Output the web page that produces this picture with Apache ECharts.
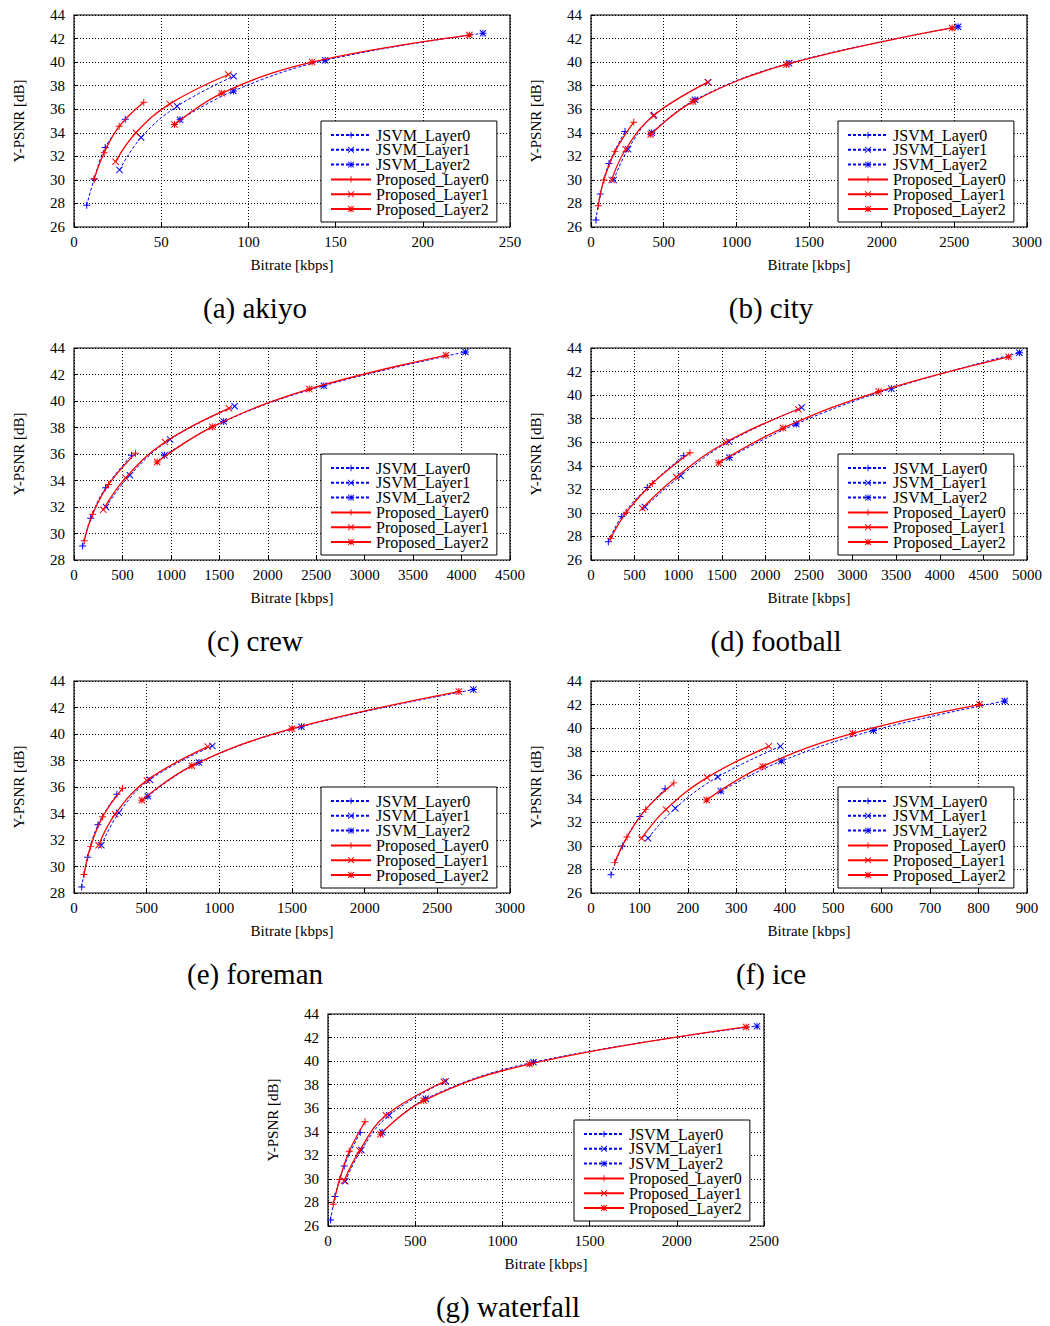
<!DOCTYPE html>
<html>
<head>
<meta charset="utf-8">
<script src="https://cdn.jsdelivr.net/npm/echarts@6/dist/echarts.min.js"></script>
<style>html,body{margin:0;padding:0;background:#fff}#c{width:1050px;height:1326px}</style>
</head>
<body>
<div id="c"></div>
<script>
// ---- data ----
const seriesNames = ['JSVM_Layer0','JSVM_Layer1','JSVM_Layer2','Proposed_Layer0','Proposed_Layer1','Proposed_Layer2'];
const captions = ['(a) akiyo','(b) city','(c) crew','(d) football','(e) foreman','(f) ice','(g) waterfall'];
const xMaxValues = [250,3000,4500,5000,3000,900,2500];
const xSteps = [50,500,500,500,500,100,500];
const yMinValues = [26,26,28,26,28,26,26];
const yMaxValues = [44,44,44,44,44,44,44];
const xName = 'Bitrate [kbps]';
const yName = 'Y-PSNR [dB]';

// akiyo
const akiyoJ0 = [[7.3,27.85],[11.5,30.05],[17.9,32.75],[29.4,35.15]];
const akiyoJ1 = [[26.1,30.85],[38.5,33.6],[59.1,36.25],[91.5,38.8]];
const akiyoJ2 = [[60.8,35.1],[91.4,37.55],[144,40.15],[234.5,42.45]];
const akiyoP0 = [[11.6,30.1],[17.3,32.3],[25.9,34.55],[40,36.6]];
const akiyoP1 = [[23.8,31.55],[35.5,34.0],[54.9,36.45],[88.5,38.95]];
const akiyoP2 = [[57.6,34.7],[84.7,37.35],[136.5,40.0],[226.7,42.3]];
// city
const cityJ0 = [[34,26.6],[64,28.8],[124,31.4],[234,34.1]];
const cityJ1 = [[156,30.0],[255,32.6],[434,35.5],[807,38.3]];
const cityJ2 = [[418,34.0],[716,36.8],[1363,39.9],[2526,43.0]];
const cityP0 = [[50,27.8],[89,30.0],[165,32.4],[294,34.9]];
const cityP1 = [[142,30.0],[239,32.6],[429,35.45],[803,38.3]];
const cityP2 = [[411,33.85],[702,36.65],[1344,39.8],[2485,42.9]];
// crew
const crewJ0 = [[89,29.05],[172,31.15],[326,33.45],[594,35.9]];
const crewJ1 = [[330,32.0],[577,34.4],[992,37.1],[1658,39.6]];
const crewJ2 = [[934,35.9],[1545,38.45],[2579,41.15],[4040,43.7]];
const crewP0 = [[106,29.45],[192,31.45],[357,33.7],[635,36.05]];
const crewP1 = [[302,31.8],[532,34.2],[940,36.9],[1599,39.45]];
const crewP2 = [[858,35.4],[1428,38.05],[2428,40.9],[3839,43.45]];
// football
const footballJ0 = [[199,27.55],[352,29.7],[646,32.15],[1063,34.85]];
const footballJ1 = [[619,30.5],[1029,33.15],[1583,36.05],[2416,38.95]];
const footballJ2 = [[1586,34.7],[2354,37.55],[3444,40.55],[4913,43.6]];
const footballP0 = [[226,27.85],[405,30.05],[703,32.5],[1135,35.1]];
const footballP1 = [[588,30.4],[978,33.05],[1548,36.0],[2377,38.8]];
const footballP2 = [[1464,34.25],[2202,37.2],[3299,40.3],[4790,43.25]];
// foreman
const foremanJ0 = [[53,28.45],[94,30.7],[165,33.15],[295,35.45]];
const foremanJ1 = [[188,31.6],[309,34.05],[522,36.55],[952,39.1]];
const foremanJ2 = [[508,35.3],[860,37.85],[1565,40.55],[2748,43.35]];
const foremanP0 = [[69,29.4],[114,31.5],[197,33.75],[334,35.9]];
const foremanP1 = [[169,31.6],[283,33.95],[501,36.5],[920,39.05]];
const foremanP2 = [[467,35.0],[811,37.6],[1500,40.4],[2648,43.2]];
// ice
const iceJ0 = [[41.3,27.55],[64.7,30.0],[101,32.5],[153,34.85]];
const iceJ1 = [[117.7,30.65],[174,33.2],[261.6,35.85],[391,38.45]];
const iceJ2 = [[268,34.65],[393,37.2],[583,39.8],[854,42.3]];
const iceP0 = [[48.9,28.6],[74.3,30.75],[113,33.1],[171,35.35]];
const iceP1 = [[104.6,30.65],[154.8,33.1],[239.5,35.8],[367,38.45]];
const iceP2 = [[238.8,33.9],[354.5,36.75],[540,39.55],[802,42.0]];
// waterfall
const waterfallJ0 = [[15,26.5],[40,28.5],[93,31.1],[185,33.95]];
const waterfallJ1 = [[99,29.8],[191,32.45],[350,35.4],[675,38.3]];
const waterfallJ2 = [[311,33.95],[560,36.8],[1178,39.9],[2460,42.97]];
const waterfallP0 = [[30,27.85],[67,29.95],[122,32.35],[212,34.85]];
const waterfallP1 = [[92,29.85],[181,32.4],[332,35.4],[664,38.25]];
const waterfallP2 = [[301,33.8],[549,36.65],[1156,39.75],[2398,42.9]];

const plotData = [
  [akiyoJ0,akiyoJ1,akiyoJ2,akiyoP0,akiyoP1,akiyoP2],
  [cityJ0,cityJ1,cityJ2,cityP0,cityP1,cityP2],
  [crewJ0,crewJ1,crewJ2,crewP0,crewP1,crewP2],
  [footballJ0,footballJ1,footballJ2,footballP0,footballP1,footballP2],
  [foremanJ0,foremanJ1,foremanJ2,foremanP0,foremanP1,foremanP2],
  [iceJ0,iceJ1,iceJ2,iceP0,iceP1,iceP2],
  [waterfallJ0,waterfallJ1,waterfallJ2,waterfallP0,waterfallP1,waterfallP2]
];

// ---- layout / style ----
const FONT = '"Liberation Serif", "DejaVu Serif", serif';
const gridPos = [
  {left:74, top:15}, {left:591, top:15},
  {left:74, top:348}, {left:591, top:348},
  {left:74, top:681}, {left:591, top:681},
  {left:328, top:1014}
];
const legendPos = [
  {left:321, top:121}, {left:838, top:121},
  {left:321, top:454}, {left:838, top:454},
  {left:321, top:787}, {left:838, top:787},
  {left:574, top:1120}
];
const captionPos = [[255,308],[771,308],[255,641],[776,641],[255,974],[771,974],[508,1307]];

const PLUS = 'path://M4.3,0H5.7V4.3H10V5.7H5.7V10H4.3V5.7H0V4.3H4.3Z';
const CROSS = 'path://M1,0L5,4L9,0L10,1L6,5L10,9L9,10L5,6L1,10L0,9L4,5L0,1Z';
const STAR = 'path://M4.3,0H5.7V4.3H10V5.7H5.7V10H4.3V5.7H0V4.3H4.3ZM1,0L5,4L9,0L10,1L6,5L10,9L9,10L5,6L1,10L0,9L4,5L0,1Z';
const symbols = [PLUS, CROSS, STAR, PLUS, CROSS, STAR];
const colors = ['#0000ff','#0000ff','#0000ff','#ff0000','#ff0000','#ff0000'];

const grids = [], xAxes = [], yAxes = [], series = [], legends = [], graphics = [];
for (let i = 0; i < 7; i++) {
  grids.push({left: gridPos[i].left, top: gridPos[i].top, width: 436, height: 212,
    show: true, borderColor: '#000', borderWidth: 1.2, backgroundColor: 'transparent'});
  xAxes.push({type:'value', gridIndex:i, min:0, max:xMaxValues[i], interval:xSteps[i],
    name: xName, nameLocation:'middle', nameGap: 30,
    nameTextStyle:{fontFamily:FONT, fontSize:15, color:'#000'},
    axisLine:{show:false}, axisTick:{show:true, inside:true, length:4, lineStyle:{color:'#000'}},
    axisLabel:{fontFamily:FONT, fontSize:15, color:'#000', margin:7, formatter: v => String(v)},
    splitLine:{show:true, lineStyle:{color:'#000', type:[1,2], width:1}}});
  yAxes.push({type:'value', gridIndex:i, min:yMinValues[i], max:yMaxValues[i], interval:2,
    name: yName, nameLocation:'middle', nameGap: 48,
    nameTextStyle:{fontFamily:FONT, fontSize:15, color:'#000'},
    axisLine:{show:false}, axisTick:{show:true, inside:true, length:4, lineStyle:{color:'#000'}},
    axisLabel:{fontFamily:FONT, fontSize:15, color:'#000', margin:9, formatter: v => String(v)},
    splitLine:{show:true, lineStyle:{color:'#000', type:[1,2], width:1}}});
  for (let k = 0; k < 6; k++) {
    const isRed = k >= 3;
    series.push({type:'line', name: seriesNames[k], xAxisIndex:i, yAxisIndex:i,
      data: plotData[i][k], smooth: 0.4, symbol: symbols[k], symbolSize: 7,
      lineStyle:{color: colors[k], width: isRed ? 1.3 : 1, type: isRed ? 'solid' : [3,2]},
      itemStyle:{color: colors[k]}, z: isRed ? 3 : 2, animation:false});
  }
  legends.push({data: seriesNames, orient:'vertical', left: legendPos[i].left, top: legendPos[i].top,
    backgroundColor:'#fff', borderColor:'#000', borderWidth:1, borderRadius:0,
    padding:[6,8,5,9], itemWidth:40, itemHeight:8, itemGap:-1.2, selectedMode:false,
    textStyle:{fontFamily:FONT, fontSize:16, color:'#000', lineHeight:16}, z:10});
  graphics.push({type:'text', x: captionPos[i][0], y: captionPos[i][1],
    style:{text: captions[i], fontFamily: FONT, fontSize: 29, fill:'#000', textAlign:'center', textVerticalAlign:'middle'}});
}

const chart = echarts.init(document.getElementById('c'), null, {renderer:'svg'});
chart.setOption({
  animation:false,
  backgroundColor:'#fff',
  grid: grids, xAxis: xAxes, yAxis: yAxes, series: series, legend: legends, graphic: graphics
});
</script>
</body>
</html>
